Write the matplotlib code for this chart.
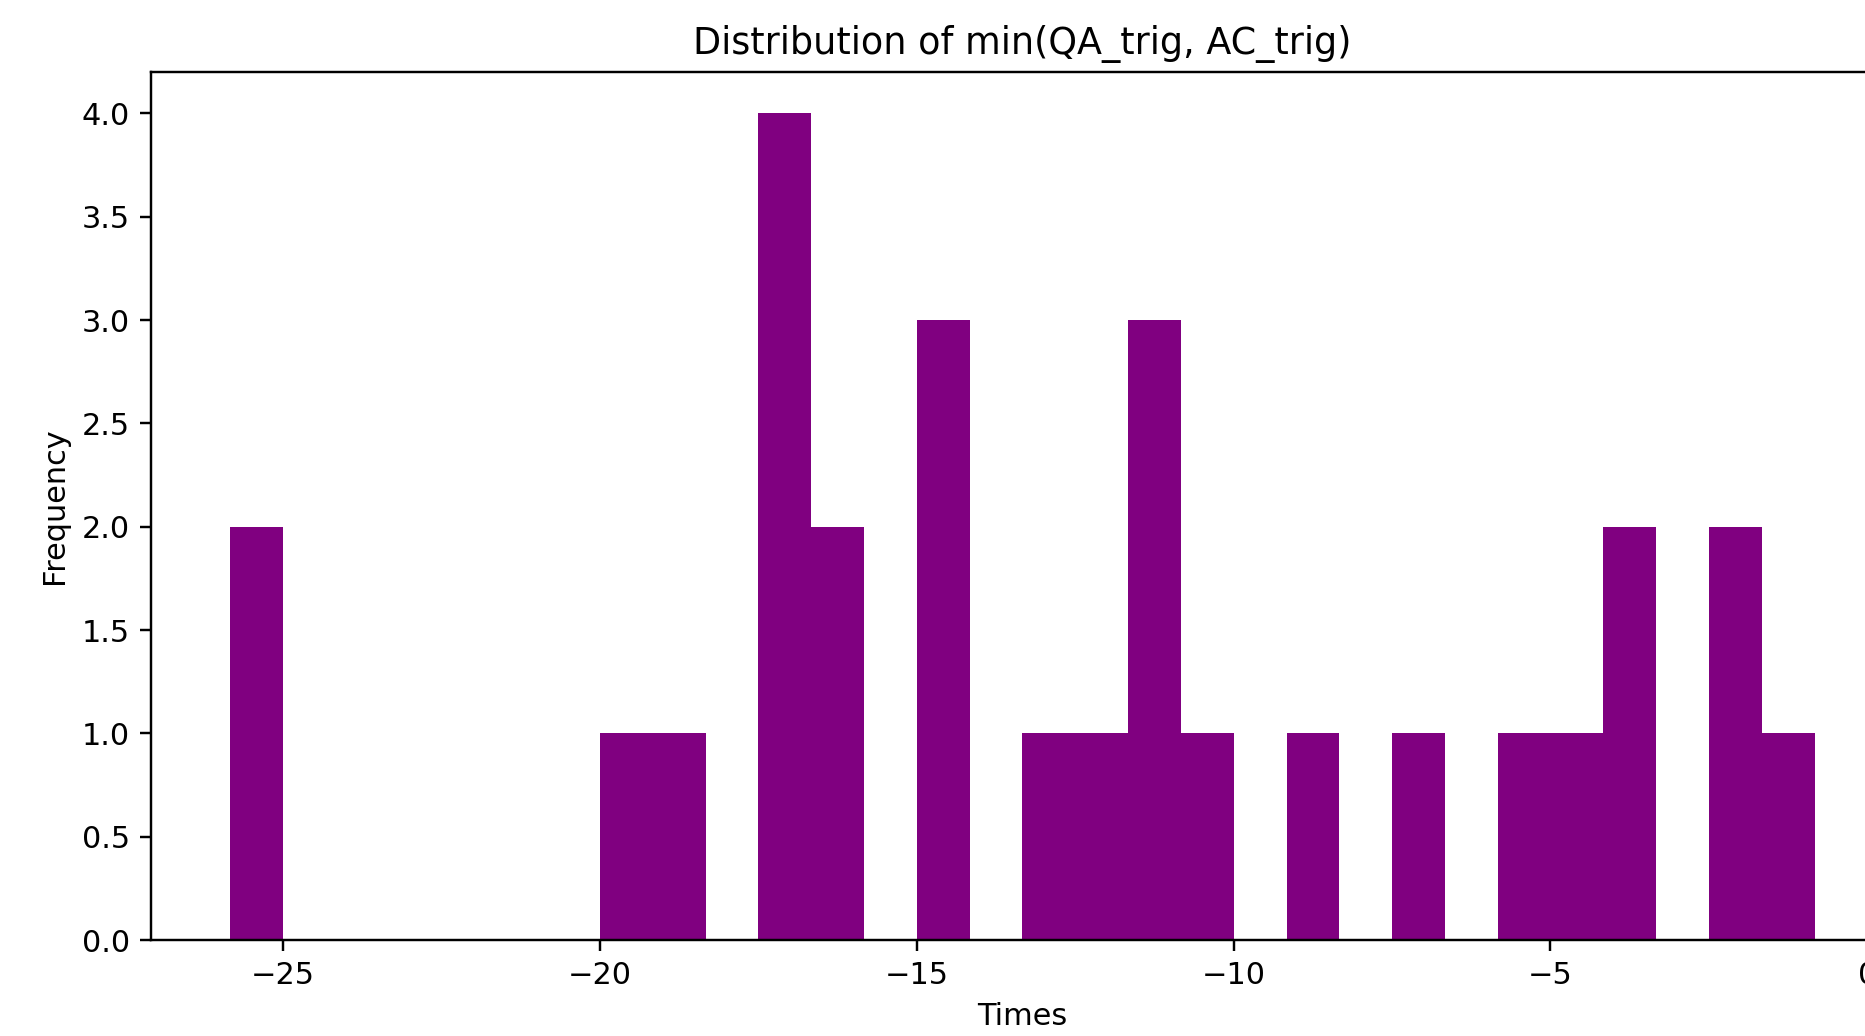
import matplotlib
matplotlib.use("Agg")
import matplotlib.pyplot as plt

# min(QA_trig, AC_trig) per run
times = [-25.83, -25.33, -19.5, -18.75, -17.25, -17.0, -17.0, -16.75,
         -16.5, -16.0, -14.75, -14.5, -14.25, -13.0, -12.0, -11.5,
         -11.25, -11.0, -10.5, -8.75, -7.0, -5.5, -4.5, -4.0, -3.5,
         -2.25, -2.0, -0.83]
n_bins = 30

W, H, DPI = 1865, 1036, 219
fig = plt.figure(figsize=(W / DPI, H / DPI), dpi=DPI)
# axes runs a little past the right edge of the canvas
ax = fig.add_axes([151 / W, (H - 940) / H, (1894 - 151) / W, (940 - 72) / H])

ax.hist(times, bins=n_bins, color="purple")
ax.set_title("Distribution of min(QA_trig, AC_trig)", fontsize=12)
ax.set_xlabel("Times")
ax.set_ylabel("Frequency")

fig.savefig("out.png", dpi=DPI)
